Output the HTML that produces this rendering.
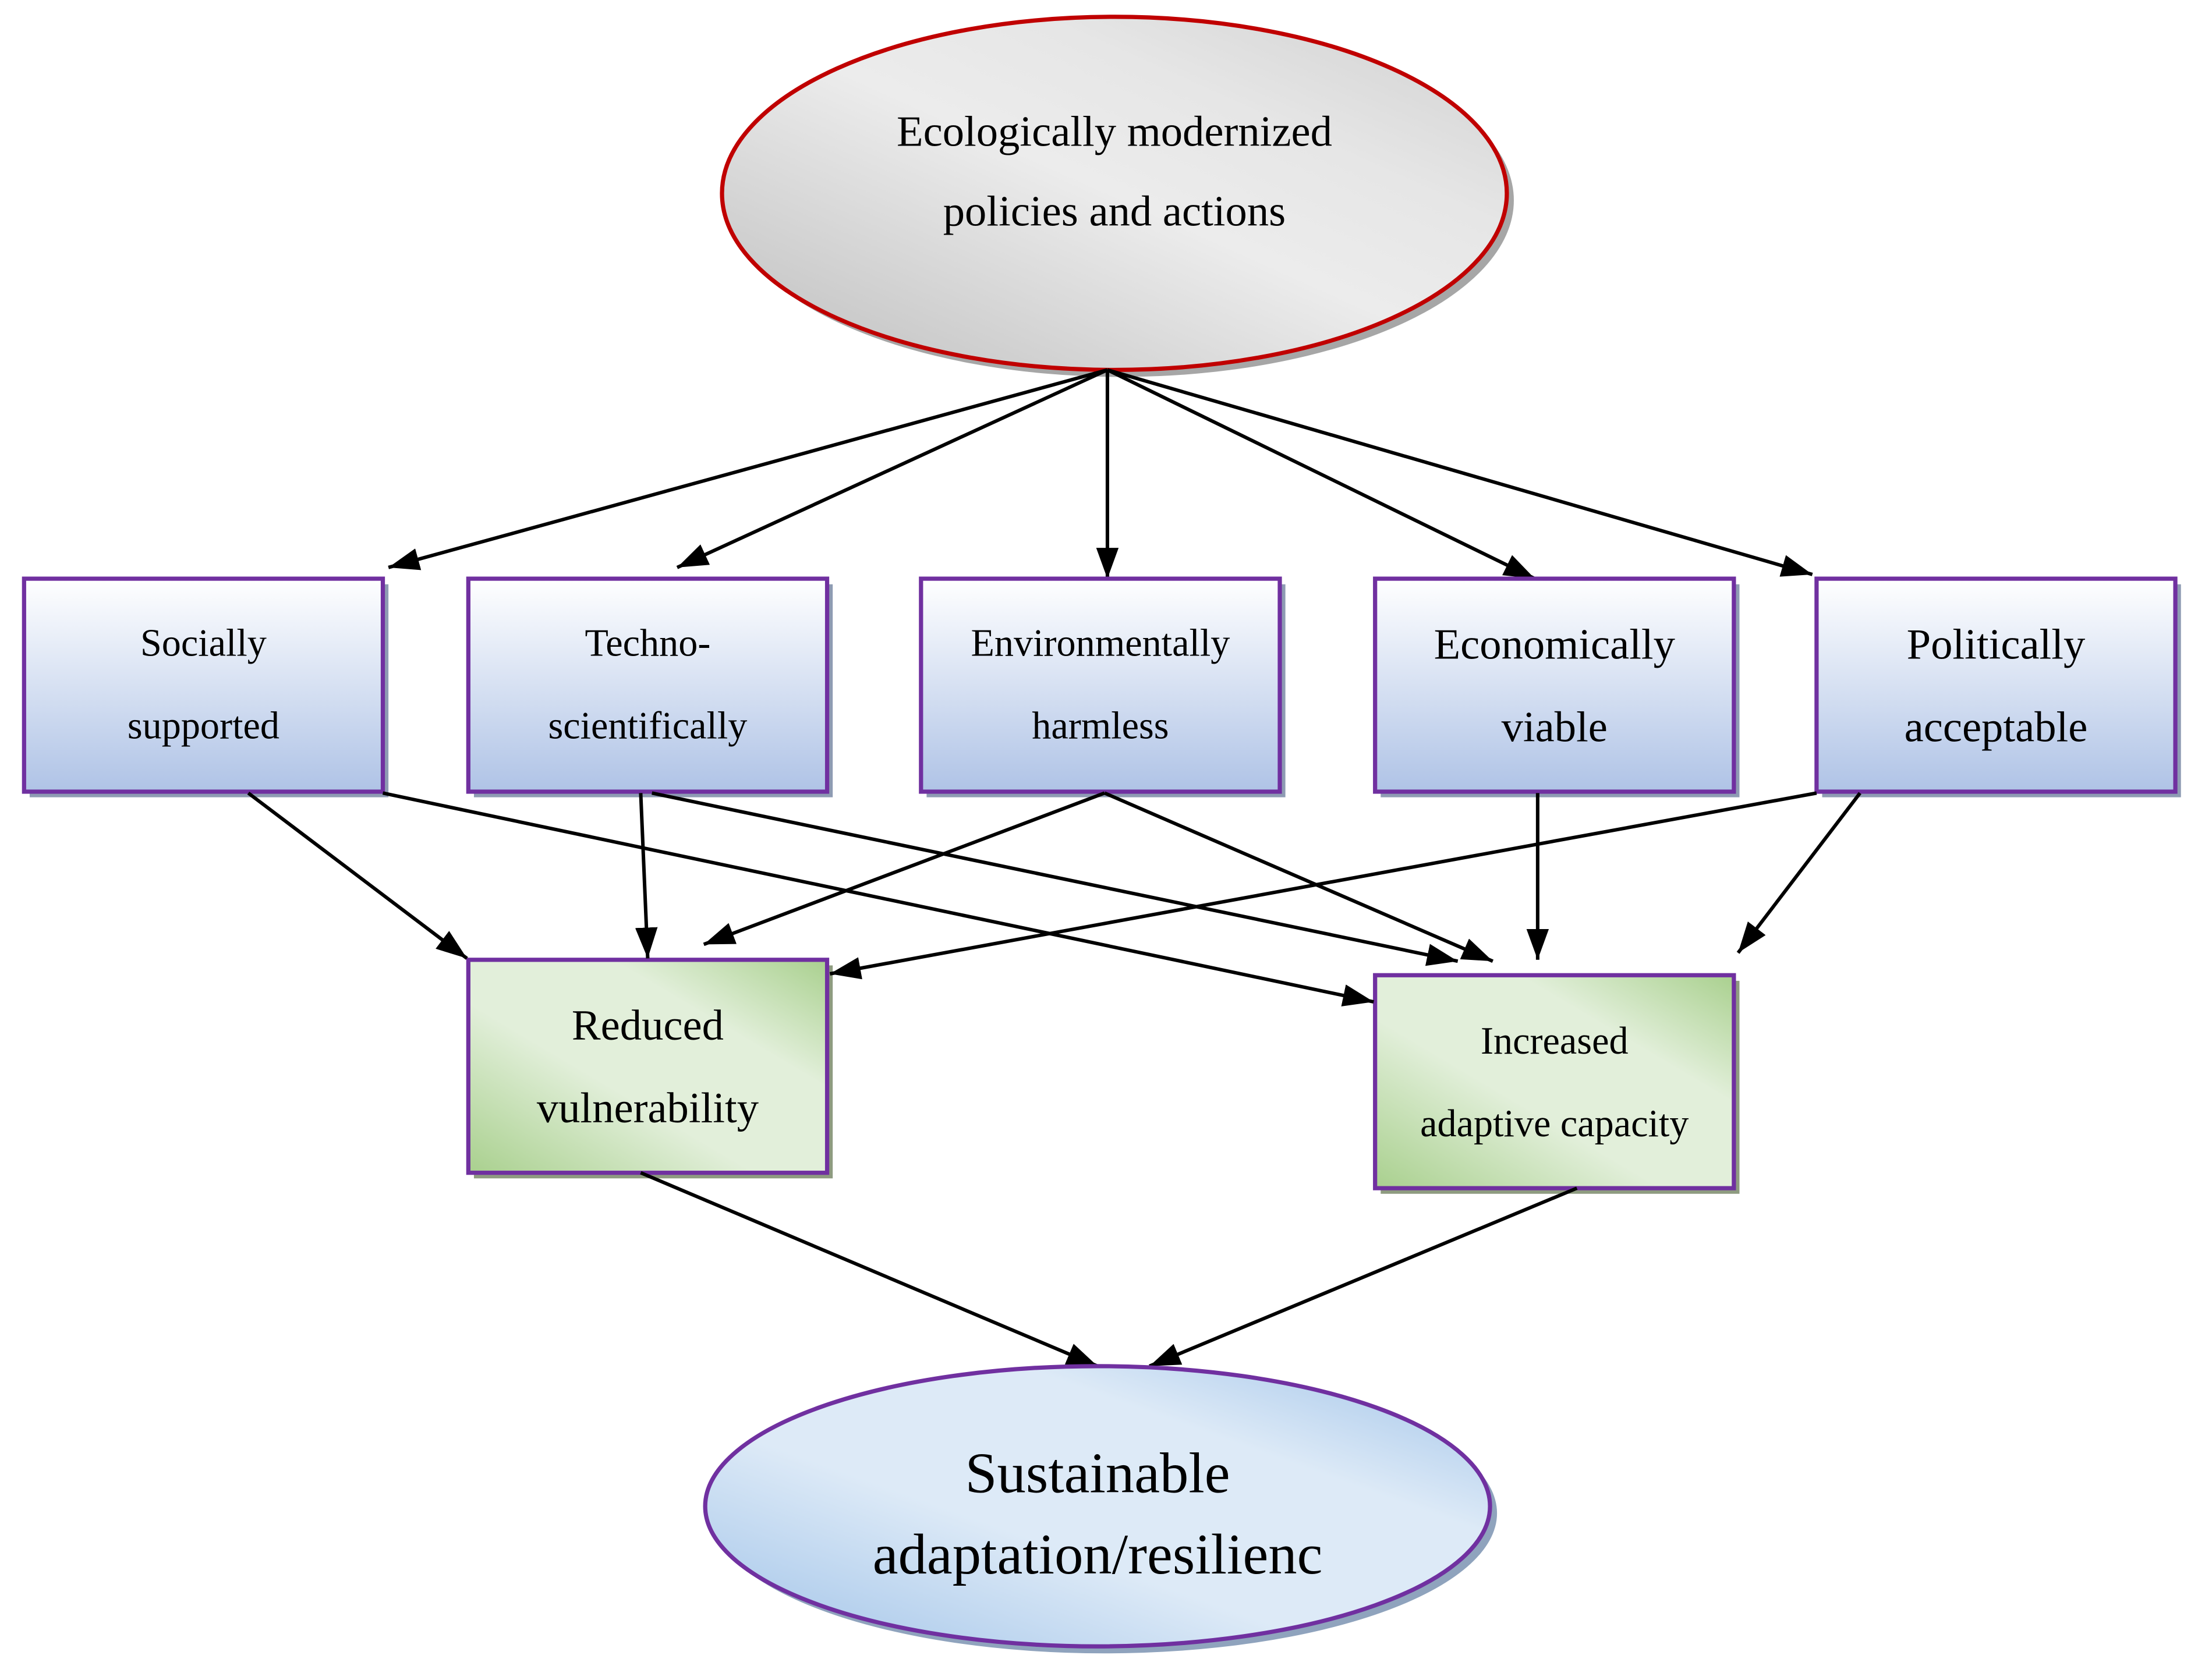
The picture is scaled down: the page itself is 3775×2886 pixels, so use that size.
<!DOCTYPE html>
<html><head><meta charset="utf-8"><style>html,body{margin:0;padding:0;background:#fff}svg{display:block}</style></head>
<body>
<svg width="3775" height="2886" viewBox="0 0 1568 1199" xmlns="http://www.w3.org/2000/svg" font-family="'Liberation Serif', serif">
<defs>
<linearGradient id="gray" x1="0" y1="1" x2="1" y2="0">
<stop offset="0" stop-color="#bdbdbd"/><stop offset="0.5" stop-color="#ececec"/><stop offset="0.7" stop-color="#e6e6e6"/><stop offset="1" stop-color="#cfcfcf"/></linearGradient>
<linearGradient id="blue" x1="0" y1="0" x2="0" y2="1">
<stop offset="0" stop-color="#ffffff"/><stop offset="1" stop-color="#afc3e6"/></linearGradient>
<linearGradient id="green" x1="0" y1="1" x2="1" y2="0">
<stop offset="0" stop-color="#a9d08e"/><stop offset="0.4" stop-color="#e2efda"/><stop offset="0.7" stop-color="#e2efda"/><stop offset="1" stop-color="#a9d08e"/></linearGradient>
<linearGradient id="lb" x1="0" y1="1" x2="1" y2="0">
<stop offset="0" stop-color="#9fc2e8"/><stop offset="0.4" stop-color="#ddeaf7"/><stop offset="0.7" stop-color="#ddeaf7"/><stop offset="1" stop-color="#9fc2e8"/></linearGradient>
<marker id="a" viewBox="0 0 22 16" refX="22" refY="8" markerWidth="22" markerHeight="16" orient="auto" markerUnits="userSpaceOnUse"><path d="M0,0 L22,8 L0,16 Z" fill="#000"/></marker>
</defs>
<ellipse cx="800" cy="143" rx="280" ry="126" fill="#a6a6a6"/>
<ellipse cx="795" cy="138" rx="280" ry="126" fill="url(#gray)" stroke="#c00000" stroke-width="3"/>
<text x="795" y="104" font-size="31" text-anchor="middle">Ecologically modernized</text>
<text x="795" y="161" font-size="31" text-anchor="middle">policies and actions</text>
<g stroke="#000" stroke-width="2.5" marker-end="url(#a)" fill="none">
<line x1="790" y1="264" x2="277" y2="405"/>
<line x1="790" y1="264" x2="483" y2="405"/>
<line x1="790" y1="264" x2="790" y2="413"/>
<line x1="790" y1="264" x2="1095" y2="413"/>
<line x1="790" y1="264" x2="1293" y2="410"/>
</g>
<g stroke="#7030a0" stroke-width="3">
<rect x="21" y="417" width="256" height="152" fill="#8e9bb3" stroke="none"/>
<rect x="338" y="417" width="256" height="152" fill="#8e9bb3" stroke="none"/>
<rect x="661" y="417" width="256" height="152" fill="#8e9bb3" stroke="none"/>
<rect x="985" y="417" width="256" height="152" fill="#8e9bb3" stroke="none"/>
<rect x="1300" y="417" width="256" height="152" fill="#8e9bb3" stroke="none"/>
<rect x="17" y="413" width="256" height="152" fill="url(#blue)"/>
<rect x="334" y="413" width="256" height="152" fill="url(#blue)"/>
<rect x="657" y="413" width="256" height="152" fill="url(#blue)"/>
<rect x="981" y="413" width="256" height="152" fill="url(#blue)"/>
<rect x="1296" y="413" width="256" height="152" fill="url(#blue)"/>
<rect x="338" y="689" width="256" height="152" fill="#8e9b80" stroke="none"/>
<rect x="985" y="700" width="256" height="152" fill="#8e9b80" stroke="none"/>
<rect x="334" y="685" width="256" height="152" fill="url(#green)"/>
<rect x="981" y="696" width="256" height="152" fill="url(#green)"/>
</g>
<g text-anchor="middle">
<text x="145" y="468" font-size="27.5">Socially</text><text x="145" y="527" font-size="27.5">supported</text>
<text x="462" y="468" font-size="27.5">Techno-</text><text x="462" y="527" font-size="27.5">scientifically</text>
<text x="785" y="468" font-size="27.5">Environmentally</text><text x="785" y="527" font-size="27.5">harmless</text>
<text x="1109" y="470" font-size="31">Economically</text><text x="1109" y="529" font-size="31">viable</text>
<text x="1424" y="470" font-size="31">Politically</text><text x="1424" y="529" font-size="31">acceptable</text>
<text x="462" y="742" font-size="31">Reduced</text><text x="462" y="801" font-size="31">vulnerability</text>
<text x="1109" y="752" font-size="27.5">Increased</text><text x="1109" y="811" font-size="27.5">adaptive capacity</text>
</g>
<g stroke="#000" stroke-width="2.5" marker-end="url(#a)" fill="none">
<line x1="177" y1="566" x2="333" y2="684"/>
<line x1="273" y1="566" x2="980" y2="715"/>
<line x1="457" y1="566" x2="462" y2="684"/>
<line x1="465" y1="566" x2="1040" y2="686"/>
<line x1="788" y1="566" x2="502" y2="674"/>
<line x1="788" y1="566" x2="1065" y2="686"/>
<line x1="1097" y1="566" x2="1097" y2="685"/>
<line x1="1296" y1="566" x2="592" y2="695"/>
<line x1="1327" y1="566" x2="1240" y2="680"/>
<line x1="457" y1="837" x2="783" y2="975"/>
<line x1="1125" y1="848" x2="820" y2="975"/>
</g>
<ellipse cx="788" cy="1080" rx="280" ry="100" fill="#8fa3bd"/>
<ellipse cx="783" cy="1075" rx="280" ry="100" fill="url(#lb)" stroke="#7030a0" stroke-width="3"/>
<text x="783" y="1065" font-size="41" text-anchor="middle">Sustainable</text>
<text x="783" y="1123" font-size="41" text-anchor="middle">adaptation/resilienc</text>
</svg>
</body></html>
